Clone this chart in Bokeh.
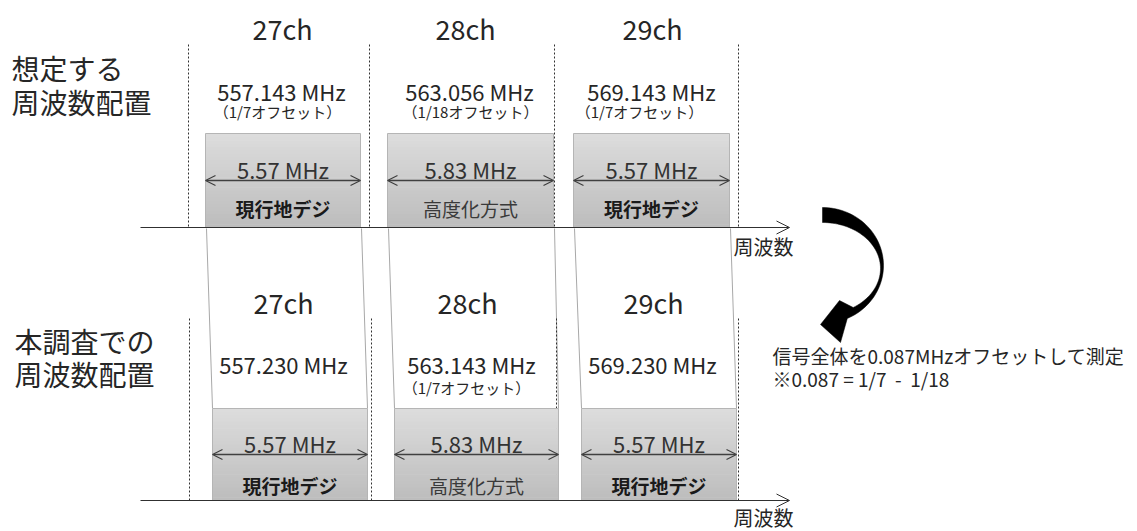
import numpy as np
from bokeh.plotting import figure
from bokeh.models import Range1d, ColumnDataSource, Arrow, OpenHead
from bokeh.core.properties import value
from bokeh.embed import file_html
from bokeh.resources import INLINE

# ---------------- data ----------------
channels = ["27ch", "28ch", "29ch"]
assumed_freqs = ["557.143 MHz", "563.056 MHz", "569.143 MHz"]
assumed_offsets = ["（1/7オフセット）", "（1/18オフセット）", "（1/7オフセット）"]
survey_freqs = ["557.230 MHz", "563.143 MHz", "569.230 MHz"]
survey_offsets = ["", "（1/7オフセット）", ""]
bandwidths = [5.57, 5.83, 5.57]
systems = ["現行地デジ", "高度化方式", "現行地デジ"]
system_bold = [True, False, True]
row_titles_top = ["想定する", "周波数配置"]
row_titles_bot = ["本調査での", "周波数配置"]
axis_label = "周波数"
note_lines = ["信号全体を0.087MHzオフセットして測定",
              "※0.087 = 1/7\u00a0\u00a0-\u00a0\u00a01/18"]

# ---------------- layout (schematic pixel positions) ----------------
FONT = "Noto Sans CJK JP"
TXT = "#262626"
W, H = 1137, 531

rows = [
    dict(bounds=[188, 369, 554, 738], boxes=[(205, 360), (387, 553), (573, 729)],
         title_x=[282, 465, 652], title_y=28,
         freq_x=[281, 469, 651], freq_y=90,
         offs_x=[277, 470, 639], offs_y=111,
         box_y0=133, axis_y=227, bw_text_y=168, bw_arrow_y=180, sys_y=208,
         dash_y0=44, label_y=246, freqs=assumed_freqs, offs=assumed_offsets,
         titles=row_titles_top, titles_x=11, titles_y=[67, 101]),
    dict(bounds=[189, 371, 556, 738], boxes=[(212, 367), (394, 558), (581, 736)],
         title_x=[283, 467, 653], title_y=302,
         freq_x=[283, 471, 652], freq_y=363,
         offs_x=[283, 466, 652], offs_y=387,
         box_y0=408, axis_y=500, bw_text_y=442, bw_arrow_y=454, sys_y=485,
         dash_y0=318, label_y=517, freqs=survey_freqs, offs=survey_offsets,
         titles=row_titles_bot, titles_x=14, titles_y=[340, 373]),
]

p = figure(width=W, height=H, x_range=Range1d(0, W), y_range=Range1d(H, 0),
           output_backend="svg", toolbar_location=None, min_border=0)
p.axis.visible = False
p.grid.visible = False
p.outline_line_color = None
p.background_fill_color = "white"
p.border_fill_color = "white"


def lerp_color(c1, c2, t):
    a = np.array([int(c1[i:i + 2], 16) for i in (1, 3, 5)])
    b = np.array([int(c2[i:i + 2], 16) for i in (1, 3, 5)])
    c = (a + (b - a) * t).round().astype(int)
    return "#%02x%02x%02x" % tuple(c)


# connecting (projection) lines between the rows
top, bot = rows
x0s, y0s, x1s, y1s = [], [], [], []
for (tl, tr), (bl, br) in zip(top["boxes"], bot["boxes"]):
    for a, b in ((tl, bl), (tr, br)):
        x0s.append(a + 1); y0s.append(top["axis_y"] + 1)
        x1s.append(b); y1s.append(bot["box_y0"])
p.segment(x0s, y0s, x1s, y1s, line_color="#a8a8a8", line_width=1)

for r in rows:
    # dashed channel boundaries
    p.segment(r["bounds"], [r["dash_y0"]] * 4, r["bounds"], [r["axis_y"]] * 4,
              line_color="#303030", line_width=1, line_dash="2 2")

    # gradient boxes
    n = 28
    L, R, T, B, C = [], [], [], [], []
    for (bl, br) in r["boxes"]:
        edges = np.linspace(r["box_y0"], r["axis_y"], n + 1)
        for k in range(n):
            L.append(bl); R.append(br); T.append(edges[k]); B.append(edges[k + 1] + 0.6)
            C.append(lerp_color("#dcdcdc", "#bdbdbd", k / (n - 1)))
    p.quad(left=L, right=R, top=T, bottom=B, fill_color=C, line_color=None)
    p.quad(left=[b[0] for b in r["boxes"]], right=[b[1] for b in r["boxes"]],
           top=[r["box_y0"]] * 3, bottom=[r["axis_y"]] * 3,
           fill_color=None, line_color="#b5b5b5", line_width=1)

    # axis with arrow
    p.add_layout(Arrow(end=OpenHead(size=13, line_color="#303030", line_width=1),
                       x_start=140, y_start=r["axis_y"], x_end=789, y_end=r["axis_y"],
                       line_color="#303030", line_width=1))
    p.text([733], [r["label_y"]], [axis_label], text_font=value(FONT),
           text_font_size=value("20px"), text_color=TXT, text_align="left",
           text_baseline="middle")

    # bandwidth arrows
    bsrc = ColumnDataSource(dict(x0=[b[0] for b in r["boxes"]], x1=[b[1] for b in r["boxes"]],
                                 y=[r["bw_arrow_y"]] * 3))
    p.add_layout(Arrow(start=OpenHead(size=10, line_color="#404040", line_width=1.2),
                       end=OpenHead(size=10, line_color="#404040", line_width=1.2),
                       x_start="x0", y_start="y", x_end="x1", y_end="y", source=bsrc,
                       line_color="#404040", line_width=1.5))
    centers = [(b[0] + b[1]) / 2 for b in r["boxes"]]
    p.text(centers, [r["bw_text_y"]] * 3, ["%.2f MHz" % v for v in bandwidths],
           text_font=value(FONT), text_font_size=value("22px"), text_color="#333333",
           text_align="center", text_baseline="middle")

    # system names
    for cx, s, bold in zip(centers, systems, system_bold):
        p.text([cx], [r["sys_y"]], [s], text_font=value(FONT),
               text_font_size=value("19px"),
               text_font_style="bold" if bold else "normal",
               text_color="#1a1a1a" if bold else "#3a3a3a",
               text_align="center", text_baseline="middle")

    # channel titles, frequencies, offsets
    p.text(r["title_x"], [r["title_y"]] * 3, channels, text_font=value(FONT),
           text_font_size=value("27px"), text_color=TXT, text_align="center",
           text_baseline="middle")
    p.text(r["freq_x"], [r["freq_y"]] * 3, r["freqs"], text_font=value(FONT),
           text_font_size=value("22px"), text_color=TXT, text_align="center",
           text_baseline="middle")
    p.text(r["offs_x"], [r["offs_y"]] * 3, r["offs"], text_font=value(FONT),
           text_font_size=value("15px"), text_color=TXT, text_align="center",
           text_baseline="middle")

    # row titles
    p.text([r["titles_x"]] * 2, r["titles_y"], r["titles"], text_font=value(FONT),
           text_font_size=value("28px"), text_color=TXT, text_align="left",
           text_baseline="middle")

# curved arrow (crescent body + arrowhead)
cx, cy = 822, 265
th_o = np.radians(np.linspace(90, -66, 60))
ox = cx + 61 * np.cos(th_o); oy = cy - 58 * np.sin(th_o)
th_i = np.radians(np.linspace(-58, 90, 60))
ix = cx + 58 * np.cos(th_i); iy = (cy + 3) - 46 * np.sin(th_i)
xs = np.concatenate([ox, [840, 820, 839], ix])
ys = np.concatenate([oy, [342, 324, 300], iy])
p.patch(xs, ys, fill_color="black", line_color="black", line_width=0.5)

# note
p.text([772, 772], [355, 378], note_lines, text_font=value(FONT),
       text_font_size=value("19px"), text_color=TXT, text_align="left",
       text_baseline="middle")

open("out.html", "w").write(file_html(p, INLINE))
